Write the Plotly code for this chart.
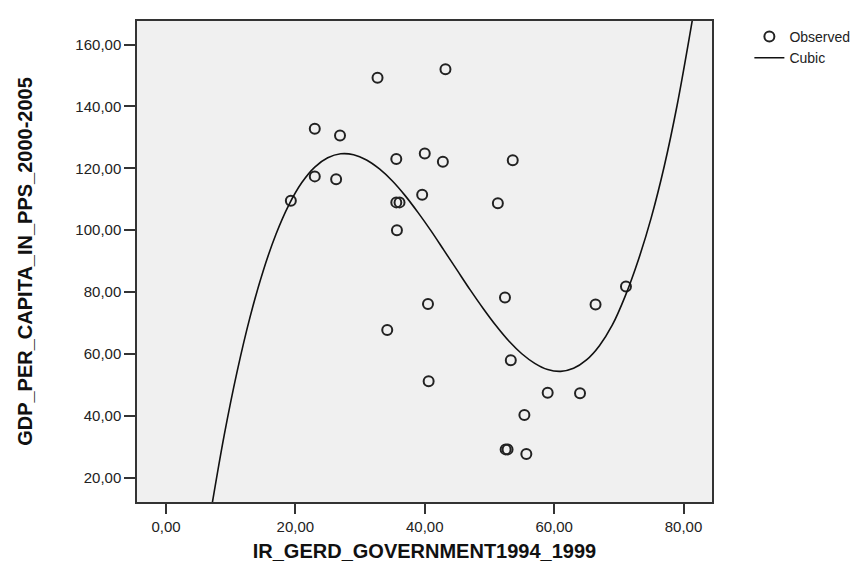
import plotly.graph_objects as go

obs_x = [19.3, 23.0, 23.0, 26.3, 26.9, 32.7, 34.2, 35.6, 35.6, 36.1, 35.7, 39.6, 40.0, 40.5, 40.6,
         42.8, 43.2, 51.3, 52.4, 52.5, 52.8, 53.3, 53.6, 55.4, 55.7, 59.0, 64.0, 66.4, 71.1]
obs_y = [109.5, 132.8, 117.4, 116.5, 130.6, 149.3, 67.8, 123.0, 109.0, 109.0, 100.0, 111.5, 124.8, 76.2, 51.2,
         122.1, 152.0, 108.7, 78.3, 29.2, 29.2, 58.0, 122.6, 40.3, 27.7, 47.5, 47.3, 76.0, 81.8]

# Cubic fit curve
cub_x = [7, 9, 11, 13, 15, 17, 19, 21, 23, 25, 27, 29, 31, 33, 35, 37, 39, 41, 43, 45,
         47, 49, 51, 53, 55, 57, 59, 61, 63, 65, 67, 69, 71, 73, 75, 77, 79, 81, 82]
cub_y = [9.9, 33.8, 54.4, 72.0, 86.7, 98.7, 108.2, 115.4, 120.4, 123.4, 124.7, 124.4, 122.7, 119.8,
         115.9, 111.1, 105.6, 99.7, 93.4, 87.1, 80.8, 74.8, 69.2, 64.2, 60.1, 57.0, 55.0, 54.4, 55.4,
         58.1, 62.7, 69.4, 78.8, 90.3, 104.0, 120.5, 140.3, 163.5, 176.0]

x_title = "IR_GERD_GOVERNMENT1994_1999"
y_title = "GDP_PER_CAPITA_IN_PPS_2000-2005"

fig = go.Figure()
fig.add_trace(go.Scatter(
    x=obs_x, y=obs_y, mode="markers", name="Observed",
    marker=dict(symbol="circle-open", size=10, color="#222222", line=dict(width=2, color="#222222")),
))
fig.add_trace(go.Scatter(
    x=cub_x, y=cub_y, mode="lines", name="Cubic", line_shape="spline",
    line=dict(color="#111111", width=1.6),
))

font_family = "Liberation Sans, Arial, sans-serif"
fig.update_layout(
    width=859, height=562,
    margin=dict(l=129, r=155, t=11, b=65),
    paper_bgcolor="white",
    plot_bgcolor="#F0F0F0",
    separators=",.",
    font=dict(family=font_family, size=15, color="#222222"),
    showlegend=True,
    legend=dict(x=1.065, y=1.0, xanchor="left", yanchor="top",
                font=dict(size=14, color="#222222"), bgcolor="rgba(0,0,0,0)",
                tracegroupgap=0),
    xaxis=dict(range=[-4.48, 84.4], tickmode="linear", tick0=0, dtick=20, tickformat=".2f",
               showgrid=False, zeroline=False, showline=True, mirror=True,
               linecolor="#333333", linewidth=1.5, ticks="outside", ticklen=10, tickwidth=2,
               tickcolor="#333333",
               title=dict(text=x_title, font=dict(size=20, family=font_family, color="#111111",
                                                    weight="bold"), standoff=10)),
    yaxis=dict(range=[12.2, 167.6], tickmode="linear", tick0=20, dtick=20, tickformat=".2f",
               showgrid=False, zeroline=False, showline=True, mirror=True,
               linecolor="#333333", linewidth=1.5, ticks="outside", ticklen=11, tickwidth=2,
               tickcolor="#333333",
               title=dict(text=y_title, font=dict(size=20, family=font_family, color="#111111",
                                                    weight="bold"), standoff=37)),
)

fig.write_html("out.html")
